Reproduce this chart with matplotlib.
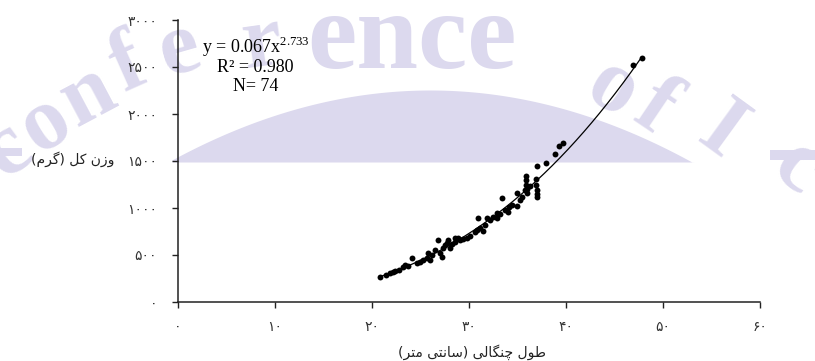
import numpy as np
import matplotlib.pyplot as plt

# fork length (cm) vs total weight (g)
length_cm = [20.8, 21.4, 21.9, 22.2, 22.4, 22.8, 23.2, 23.4, 23.7, 24.1,
             24.6, 24.9, 25.3, 25.7, 25.8, 26.0, 26.2, 26.5, 26.8, 27.0,
             27.2, 27.3, 27.5, 27.7, 27.8, 28.0, 28.2, 28.6, 28.6, 28.9,
             29.1, 29.4, 29.8, 30.1, 30.6, 30.8, 30.9, 31.1, 31.4, 31.6,
             31.9, 32.2, 32.5, 32.9, 32.9, 33.2, 33.4, 33.7, 34.0, 34.1,
             34.4, 34.9, 34.9, 35.3, 35.5, 35.8, 35.9, 35.9, 35.9, 36.0,
             36.0, 36.3, 36.9, 36.9, 37.0, 37.0, 37.0, 37.0, 37.9, 38.9,
             39.3, 39.7, 46.9, 47.8]
weight_g = [266, 287, 309, 319, 330, 340, 372, 394, 383, 468,
            415, 425, 447, 468, 521, 447, 500, 553, 660, 521,
            479, 574, 606, 628, 660, 574, 617, 638, 681, 681,
            660, 670, 681, 702, 745, 766, 894, 787, 755, 819,
            894, 872, 904, 947, 894, 936, 1106, 979, 957, 1011,
            1032, 1160, 1021, 1085, 1117, 1191, 1340, 1298, 1245, 1202,
            1160, 1234, 1308, 1245, 1191, 1149, 1117, 1447, 1479, 1574,
            1660, 1691, 2521, 2596]

fit_a = 0.067
fit_b = 2.733
fit_r2 = 0.980

x_ticks = [0, 10, 20, 30, 40, 50, 60]
x_tick_labels = ["۰", "۱۰", "۲۰", "۳۰", "۴۰", "۵۰", "۶۰"]
y_ticks = [0, 500, 1000, 1500, 2000, 2500, 3000]
y_tick_labels = ["۰", "۵۰۰", "۱۰۰۰", "۱۵۰۰", "۲۰۰۰", "۲۵۰۰", "۳۰۰۰"]

# labels written in visual order with presentation forms (no shaping in mpl)
x_label = ("(\uFEAE\uFE98\uFEE3 \uFBFD\uFE98\uFEE7\uFE8E\uFEB3) "
           "\uFBFD\uFEDF\uFE8E\uFB95\uFEE8\uFB7C \uFEDD\uFEEE\uFEC3")
y_label = "(\uFEE1\uFEAE\uFB94) \uFEDE\uFB90 \uFEE5\uFEAF\uFEED"

W, H = 815, 361
fig = plt.figure(figsize=(W / 100, H / 100), dpi=100)

# -----------------------------
# WATERMARK (background)
# -----------------------------
wm_color = "#dcd9ee"
bg = fig.add_axes([0, 0, 1, 1], zorder=0)
bg.set_xlim(0, W)
bg.set_ylim(H, 0)
bg.axis("off")
bx = np.linspace(172, 705, 200)
btop = np.minimum(162, 90 + 0.00105 * (bx - 430) ** 2)
bg.fill_between(bx, btop, 162, color=wm_color, lw=0)
bg.fill_between([0, 22], [148, 148], [156, 156], color=wm_color, lw=0)
bg.fill_between([770, 815], [150, 150], [160, 160], color=wm_color, lw=0)

letters = [("c", 8, 150, 36), ("o", 46, 124, 32), ("n", 88, 96, 28),
           ("f", 128, 66, 24), ("e", 180, 50, 16), ("r", 262, 44, 8),
           ("o", 612, 90, -32), ("f", 655, 108, -34),
           ("I", 722, 132, -36), ("c", 798, 168, -38)]
for ch, px, py, rot in letters:
    bg.text(px, py, ch, fontsize=64, fontweight="bold", family="Liberation Serif",
            color=wm_color, ha="center", va="center", rotation=rot)
bg.text(412, 68, "ence", fontsize=80, fontweight="bold", family="Liberation Serif",
        color=wm_color, ha="center", va="baseline")

# -----------------------------
# PLOT
# -----------------------------
ax = fig.add_axes([178 / W, 1 - 302 / H, 582 / W, 282 / H], zorder=1)
ax.patch.set_alpha(0)

xs = np.linspace(min(length_cm), max(length_cm), 200)
ax.plot(xs, fit_a * xs ** fit_b, color="black", lw=0.9, zorder=2)
ax.scatter(length_cm, weight_g, s=18, color="black", zorder=3, linewidths=0)

ax.set_xlim(0, 60)
ax.set_ylim(0, 3000)
ax.spines["top"].set_visible(False)
ax.spines["right"].set_visible(False)
for s in ("left", "bottom"):
    ax.spines[s].set_linewidth(1.1)
    ax.spines[s].set_color("#222222")

ax.set_xticks(x_ticks)
ax.set_xticklabels(x_tick_labels, family=["DejaVu Sans"], fontsize=10, color="#333333")
ax.set_yticks(y_ticks)
ax.set_yticklabels(y_tick_labels, family=["DejaVu Sans"], fontsize=10, color="#333333")
ax.tick_params(axis="both", direction="out", length=4, width=1, color="#222222")
ax.tick_params(axis="x", pad=9)
ax.tick_params(axis="y", pad=11)

ax.set_xlabel(x_label, family=["DejaVu Sans"], fontsize=10, color="#222222", va="center")
ax.xaxis.set_label_coords(0.505, -0.177)
ax.set_ylabel(y_label, family=["DejaVu Sans"], fontsize=10, color="#222222",
              rotation=0, ha="right", va="center")
ax.yaxis.set_label_coords(-0.11, 0.505)

eq_font = dict(family="Liberation Serif", fontsize=13, color="black",
               ha="center", va="center", transform=ax.transAxes)
ax.text(0.133, 0.905, f"y = {fit_a}x$^{{\\mathregular{{{fit_b}}}}}$", **eq_font)
ax.text(0.133, 0.83, f"R² = {fit_r2:.3f}", **eq_font)
ax.text(0.133, 0.763, f"N= {len(length_cm)}", **eq_font)

plt.savefig("out.png", dpi=100)
plt.close()
